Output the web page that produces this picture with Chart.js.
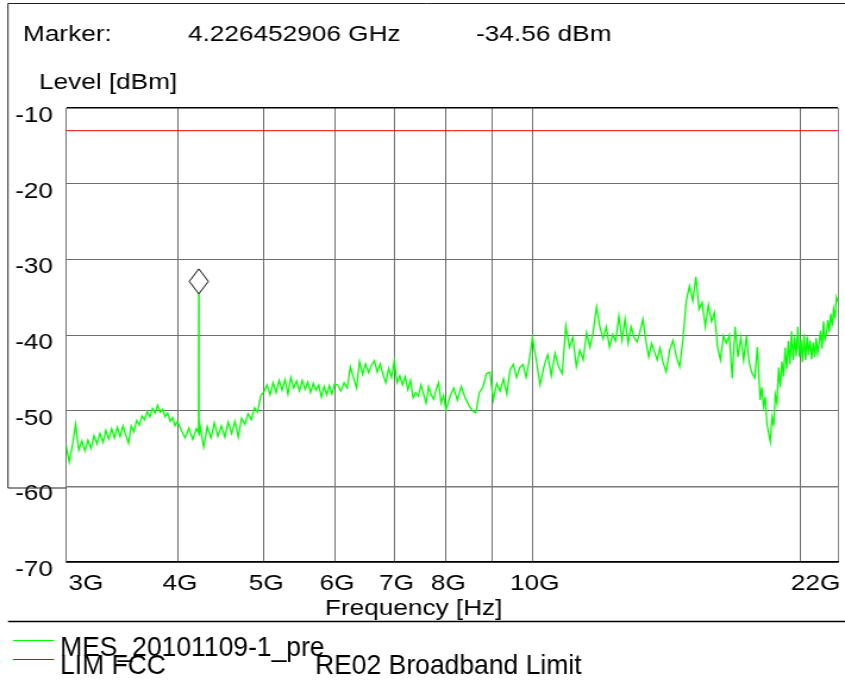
<!DOCTYPE html>
<html>
<head>
<meta charset="utf-8">
<script src="https://cdn.jsdelivr.net/npm/chart.js@4"></script>
<style>
  html, body { margin: 0; padding: 0; background: #fff; overflow: hidden; }
  /* the plot is laid out 710px wide and widened to the 845px window */
  #wrap { position: absolute; left: 0; top: 0; width: 710px; height: 681px;
          transform: scaleX(1.190141); transform-origin: 0 0; }
</style>
</head>
<body>
<div id="wrap"><canvas id="c"></canvas></div>
<script>
// ---- measurement data -------------------------------------------------
// Sweep frequencies in GHz
const freqGHz = [
  3.000,3.025,3.050,3.075,3.100,3.125,3.150,3.175,3.200,3.225,3.250,3.275,3.300,3.325,3.350,3.375,3.400,3.425,3.450,3.475,
  3.500,3.525,3.550,3.575,3.600,3.625,3.650,3.675,3.700,3.725,3.750,3.775,3.800,3.825,3.850,3.875,3.900,3.925,3.950,3.975,4.000,
  4.04,4.08,4.12,4.16,4.20,4.224,4.2264529,4.229,4.24,4.28,4.32,4.36,4.40,4.44,4.48,4.52,4.56,4.60,4.64,4.68,4.72,4.76,4.80,4.84,
  4.88,4.92,4.96,5.00,
  5.04,5.08,5.12,5.16,5.20,5.24,5.28,5.32,5.36,5.40,5.44,5.48,5.52,5.56,5.60,5.64,5.68,5.72,5.76,5.80,5.84,5.88,5.92,5.96,6.00,
  6.05,6.10,6.15,6.20,6.25,6.30,6.35,6.40,6.45,6.50,6.55,6.60,6.65,6.70,6.75,6.80,6.85,6.90,6.95,7.00,
  7.05,7.10,7.15,7.20,7.25,7.30,7.35,7.40,7.45,7.50,7.55,7.60,7.65,7.70,7.75,7.80,7.85,7.90,7.95,8.00,
  8.08,8.16,8.24,8.32,8.40,8.48,8.56,8.64,8.72,8.80,8.88,8.96,9.04,9.12,9.20,9.28,9.36,9.44,9.52,9.60,9.68,9.76,9.84,9.92,10.00,
  10.1,10.2,10.3,10.4,10.5,10.6,10.7,10.8,10.9,11.0,11.1,11.2,11.3,11.4,11.5,11.6,11.7,11.8,11.9,12.0,
  12.1,12.2,12.3,12.4,12.5,12.6,12.7,12.8,12.9,13.0,13.1,13.2,13.3,13.4,13.5,13.6,13.7,13.8,13.9,14.0,
  14.125,14.25,14.375,14.5,14.625,14.75,14.875,15.0,15.125,15.25,15.375,15.5,15.625,15.75,15.875,16.0,
  16.125,16.25,16.375,16.5,16.625,16.75,16.875,17.0,17.125,17.25,17.375,17.5,17.625,17.75,17.875,18.0,
  18.08,18.16,18.24,18.32,18.40,18.48,18.56,18.64,18.72,18.80,18.88,18.96,19.04,19.12,19.20,19.28,19.36,19.44,19.52,19.60,
  19.68,19.76,19.84,19.92,20.00,20.08,20.16,20.24,20.32,20.40,20.48,20.56,20.64,20.72,20.80,20.88,20.96,21.04,21.12,21.20,
  21.28,21.36,21.44,21.52,21.60,21.68,21.76,21.84,21.92,22.00
];
// Measured level in dBm at each sweep frequency
const levelDbm = [
  -54.5,-56.8,-54.6,-51.8,-55.2,-54.0,-55.3,-53.9,-55.0,-53.3,-54.4,-53.0,-54.2,-52.6,-53.8,-52.4,-53.6,-52.2,-53.4,-52.0,
  -53.2,-54.3,-52.0,-52.8,-51.3,-51.9,-50.7,-51.2,-50.1,-50.8,-49.7,-50.3,-49.3,-50.2,-49.8,-50.8,-50.3,-51.4,-50.9,-52.0,-51.4,
  -52.6,-53.6,-52.3,-53.8,-52.4,-52.9,-34.56,-53.3,-52.0,-54.8,-52.1,-53.6,-51.6,-53.4,-52.0,-53.5,-51.5,-53.0,-51.4,-53.5,-51.0,-51.8,-50.4,-51.2,
  -49.6,-50.2,-48.0,-47.5,
  -46.6,-47.9,-46.3,-47.6,-46.0,-47.3,-45.9,-47.8,-45.6,-47.0,-46.1,-47.4,-46.0,-47.2,-46.2,-47.6,-46.4,-47.3,-46.6,-48.2,-46.8,-47.9,-46.7,-47.8,-46.5,
  -46.6,-47.4,-46.3,-47.0,-44.2,-45.6,-47.0,-43.5,-45.2,-43.8,-45.0,-44.0,-43.4,-44.9,-43.8,-45.2,-46.3,-44.4,-45.6,-43.4,
  -46.3,-45.4,-46.6,-45.5,-47.2,-46.0,-48.3,-47.6,-48.1,-46.6,-47.8,-49.0,-46.8,-47.9,-48.5,-47.2,-46.3,-49.0,-48.0,-49.9,
  -48.2,-47.0,-48.6,-46.8,-48.2,-49.2,-50.0,-50.3,-47.6,-46.9,-45.1,-44.9,-48.6,-46.4,-47.4,-45.8,-47.8,-44.6,-43.9,-45.6,-44.3,-43.9,-45.6,-43.3,-40.3,
  -43.3,-46.6,-44.2,-42.6,-45.4,-42.4,-44.2,-45.1,-38.8,-41.6,-40.3,-44.2,-42.0,-43.3,-39.7,-41.6,-39.5,-36.3,-38.9,-40.5,
  -38.9,-41.6,-39.9,-40.8,-37.5,-40.7,-37.9,-41.1,-38.9,-40.3,-40.9,-39.6,-37.9,-40.7,-42.9,-41.1,-42.2,-43.3,-41.7,-43.5,
  -44.9,-42.0,-40.7,-42.9,-44.2,-40.5,-35.5,-33.5,-35.5,-32.3,-36.6,-35.7,-38.9,-36.0,-38.2,-37.0,
  -41.6,-43.3,-40.1,-41.1,-40.0,-45.7,-38.9,-42.9,-40.3,-43.3,-40.1,-43.7,-45.0,-45.7,-41.6,-48.6,
  -46.9,-49.5,-48.2,-51.7,-53.0,-54.1,-50.8,-52.0,-47.9,-49.0,-44.3,-46.9,-43.5,-45.5,-41.7,-44.5,-40.8,-43.9,-39.5,-43.3,
  -40.2,-42.8,-38.9,-42.9,-40.6,-43.6,-39.9,-43.3,-40.2,-42.6,-40.7,-43.2,-41.0,-42.9,-40.4,-42.4,-41.1,-39.4,-41.8,-38.2,
  -40.6,-39.9,-38.0,-39.6,-37.2,-38.8,-36.6,-37.8,-35.0,-35.6
];

// Limit line (dBm) over the whole span
const limitFreqGHz = [3, 22];
const limitDbm = [-13, -13];

// Marker readout
const markerFreqGHz = 4.226452906;
const markerLevelDbm = -34.56;

// Axis ticks
const gridFreqGHz = [3, 4, 5, 6, 7, 8, 9, 10, 20, 22];
const freqTickText = ['3G', '4G', '5G', '6G', '7G', '8G', '', '10G', '', '22G'];
const levelTicks = [-70, -60, -50, -40, -30, -20, -10];

// Legend entries
const traceName = 'MES_20101109-1_pre';
const limitName = 'LIM FCC';
const limitDesc = 'RE02 Broadband Limit';

// ---- drawing -----------------------------------------------------------
const FONT = '"Liberation Sans", Arial, sans-serif';
const TRACE_COLOR = '#00ff00';
const LIMIT_COLOR = '#f00000';

// diamond symbol whose lower tip sits on the marker point
const diamond = document.createElement('canvas');
diamond.width = 18; diamond.height = 52;
(function () {
  const g = diamond.getContext('2d');
  g.strokeStyle = '#000'; g.lineWidth = 1;
  g.beginPath();
  g.moveTo(9, 1); g.lineTo(17, 13.5); g.lineTo(9, 26); g.lineTo(1, 13.5);
  g.closePath(); g.stroke();
})();

const panelPlugin = {
  id: 'panel',
  afterDraw(chart) {
    const ctx = chart.ctx;
    const W = chart.width;
    ctx.save();
    // panel frame around header and upper plot
    ctx.strokeStyle = '#222'; ctx.lineWidth = 1;
    ctx.beginPath();
    ctx.moveTo(W, 3.5); ctx.lineTo(6.7, 3.5); ctx.lineTo(6.7, 488); ctx.lineTo(chart.chartArea.left, 488);
    ctx.stroke();
    // separator above the legend
    ctx.strokeStyle = '#000'; ctx.lineWidth = 1.5;
    ctx.beginPath(); ctx.moveTo(6.7, 621.5); ctx.lineTo(W, 621.5); ctx.stroke();

    // header readout
    ctx.fillStyle = '#000';
    ctx.font = '22px ' + FONT;
    ctx.textBaseline = 'alphabetic';
    ctx.textAlign = 'left';
    ctx.fillText('Marker:', 19.3, 41);
    ctx.fillText(markerFreqGHz.toFixed(9) + ' GHz', 158, 41);
    ctx.fillText(markerLevelDbm.toFixed(2) + ' dBm', 400, 41);
    // axis titles
    ctx.fillText('Level [dBm]', 32.8, 89);
    ctx.fillText('Frequency [Hz]', 273, 615);

    // legend keys
    ctx.lineWidth = 1.2;
    ctx.strokeStyle = TRACE_COLOR;
    ctx.beginPath(); ctx.moveTo(10.9, 640.5); ctx.lineTo(45.4, 640.5); ctx.stroke();
    ctx.strokeStyle = LIMIT_COLOR;
    ctx.beginPath(); ctx.moveTo(10.9, 659.5); ctx.lineTo(45.4, 659.5); ctx.stroke();
    // legend text, tall and narrow
    ctx.font = '28px ' + FONT;
    const narrow = (txt, x, y) => {
      ctx.save(); ctx.translate(x, y); ctx.scale(0.795, 1); ctx.fillText(txt, 0, 0); ctx.restore();
    };
    narrow(traceName, 50.4, 656);
    narrow(limitName, 50.4, 674);
    narrow(limitDesc, 264.7, 673.5);
    ctx.restore();
  }
};

new Chart(document.getElementById('c'), {
  type: 'line',
  data: {
    datasets: [
      {
        label: traceName,
        data: freqGHz.map((f, i) => ({ x: f, y: levelDbm[i] })),
        borderColor: TRACE_COLOR, borderWidth: 1.3, pointRadius: 0, tension: 0, order: 2
      },
      {
        label: limitName,
        data: limitFreqGHz.map((f, i) => ({ x: f, y: limitDbm[i] })),
        borderColor: LIMIT_COLOR, borderWidth: 1, pointRadius: 0, order: 3
      },
      {
        label: 'Marker',
        data: [{ x: markerFreqGHz, y: markerLevelDbm }],
        showLine: false, pointStyle: diamond, pointRadius: 5, order: 1
      }
    ]
  },
  options: {
    responsive: true,
    maintainAspectRatio: false,
    animation: false,
    devicePixelRatio: 1,
    events: [],
    layout: { padding: { left: 0, top: 108, right: 2.4, bottom: 79 } },
    plugins: { legend: { display: false }, tooltip: { enabled: false }, title: { display: false } },
    scales: {
      x: {
        type: 'logarithmic', min: 3, max: 22,
        afterBuildTicks: s => { s.ticks = gridFreqGHz.map(v => ({ value: v })); },
        afterFit: s => { s.height = 40; s.paddingLeft = 0; s.paddingRight = 0; },
        ticks: {
          autoSkip: false, maxRotation: 0, minRotation: 0, align: 'inner',
          padding: 9, labelOffset: 2, color: '#000',
          font: { family: FONT, size: 22 },
          callback: (v, i) => freqTickText[i]
        },
        grid: {
          drawTicks: false, lineWidth: 1,
          color: c => (c.tick && c.tick.value === 22) ? '#8a8a8a' : '#6e6e6e'
        },
        border: { display: true, color: '#000', width: 1.5 }
      },
      y: {
        type: 'linear', min: -70, max: -10,
        afterBuildTicks: s => { s.ticks = levelTicks.map(v => ({ value: v })); },
        afterFit: s => { s.width = 55.46; s.paddingTop = 0; s.paddingBottom = 0; },
        ticks: {
          padding: 11, labelOffset: 8, color: '#000',
          font: { family: FONT, size: 22 },
          callback: v => String(v)
        },
        grid: {
          drawTicks: false,
          lineWidth: c => (c.tick && (c.tick.value === -10 || c.tick.value === -60)) ? 1.6 : 1,
          color: c => {
            const v = c.tick && c.tick.value;
            if (v === -10) return '#000';
            if (v === -60) return '#7a7a7a';
            return '#6e6e6e';
          }
        },
        border: { display: true, color: '#6e6e6e', width: 1 }
      }
    }
  },
  plugins: [panelPlugin]
});
</script>
</body>
</html>
